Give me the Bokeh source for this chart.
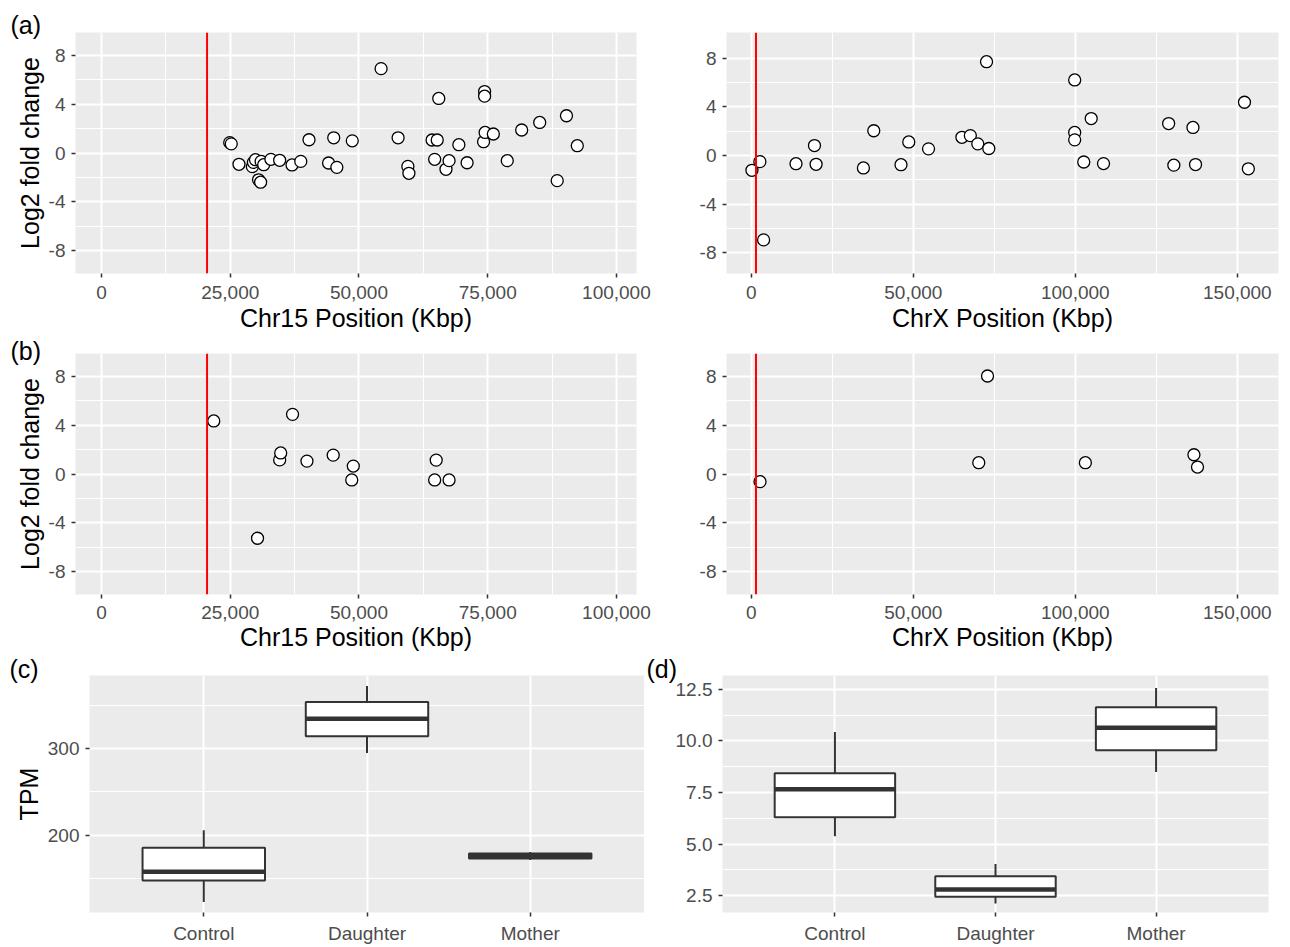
from bokeh.plotting import figure
from bokeh.layouts import row, column
from bokeh.models import (Range1d, FactorRange, FixedTicker, NumeralTickFormatter,
                          Span, ColumnDataSource)
from bokeh.transform import dodge
from bokeh.embed import file_html
from bokeh.resources import INLINE

# ---------------- data ----------------
chr15_all_pos = [24900, 25200, 26700, 29300, 29500, 29900, 30500, 30900, 31000, 31500,
                 32900, 34600, 37000, 38700, 40300, 44100, 45100, 45700, 48700, 54300,
                 57600, 59500, 59700, 64200, 64700, 65200, 65500, 66900, 67500, 69400,
                 71000, 74200, 74400, 74400, 74500, 76100, 78800, 81600, 85100, 88500,
                 90300, 92400]
chr15_all_lfc = [0.85, 0.75, -0.93, -1.12, -0.77, -0.55, -2.2, -2.4, -0.69, -0.96,
                 -0.52, -0.6, -0.98, -0.69, 1.09, -0.82, 1.25, -1.18, 1.0, 6.93,
                 1.25, -1.1, -1.67, 1.07, -0.52, 1.07, 4.48, -1.34, -0.63, 0.68,
                 -0.8, 0.93, 5.05, 4.67, 1.69, 1.56, -0.63, 1.89, 2.51, -2.27,
                 3.06, 0.6]

chrx_all_pos = [200, 2650, 3800, 13800, 19500, 20000, 34600, 37800, 46200, 48600,
                54700, 65000, 67600, 69900, 72600, 73300, 99800, 99800, 99800, 102600,
                104900, 108700, 128800, 130400, 136300, 137100, 152200, 153400]
chrx_all_lfc = [-1.22, -0.51, -6.94, -0.68, 0.81, -0.73, -1.03, 2.03, -0.76, 1.11,
                0.54, 1.49, 1.63, 0.95, 7.7, 0.57, 6.2, 1.89, 1.28, -0.54,
                3.03, -0.67, 2.62, -0.8, 2.3, -0.75, 4.37, -1.1]

chr15_sub_pos = [21800, 30300, 34600, 34800, 37100, 39900, 45000, 48600, 48900, 64700, 65000, 67500]
chr15_sub_lfc = [4.36, -5.28, 1.16, 1.73, 4.9, 1.06, 1.55, -0.49, 0.65, -0.49, 1.14, -0.49]

chrx_sub_pos = [2700, 70200, 72900, 103100, 136600, 137700]
chrx_sub_lfc = [-0.63, 0.93, 8.05, 0.93, 1.58, 0.57]

chr15_mark = 20500
chrx_mark = 1450

groups = ["Control", "Daughter", "Mother"]
c_low = [123.1, 295.1, 171.6]
c_q1 = [147.7, 314.4, 173.1]
c_med = [158.0, 334.4, 176.0]
c_q3 = [185.6, 353.8, 179.1]
c_high = [205.7, 372.4, 180.7]

d_low = [5.38, 2.13, 8.50]
d_q1 = [6.30, 2.45, 9.55]
d_med = [7.66, 2.80, 10.64]
d_q3 = [8.44, 3.44, 11.63]
d_high = [10.43, 4.04, 12.56]

lfc_ticks = [-8, -4, 0, 4, 8]
lfc_minor = [-6, -2, 2, 6]
chr15_ticks = [0, 25000, 50000, 75000, 100000]
chr15_minor = [12500, 37500, 62500, 87500]
chrx_ticks = [0, 50000, 100000, 150000]
chrx_minor = [25000, 75000, 125000]
tpm_c_ticks = [200, 300]
tpm_c_minor = [150, 250, 350]
tpm_d_ticks = [2.5, 5.0, 7.5, 10.0, 12.5]
tpm_d_minor = [3.75, 6.25, 8.75, 11.25]

# ---------------- style ----------------
FONT = "Liberation Sans"
BG = "#EBEBEB"
DARK = "#333333"


def base(width, height, left, right, top, bottom, xr, yr, tag=None):
    p = figure(width=width, height=height, x_range=xr, y_range=yr,
               output_backend="svg", toolbar_location=None,
               min_border_left=left, min_border_right=right,
               min_border_top=top, min_border_bottom=bottom,
               background_fill_color=BG, border_fill_color="white",
               outline_line_color=None)
    if tag is not None:
        text, off, stand = tag
        p.title.text = text
        p.title.text_font = FONT
        p.title.text_font_size = "25px"
        p.title.text_font_style = "normal"
        p.title.text_color = "black"
        p.title.align = "left"
        p.title.vertical_align = "bottom"
        p.title.offset = off
        p.title.standoff = stand
    return p


def style(p, xlabel=None, ylabel=None, x_standoff=10, x_label_standoff=2):
    for ax in p.axis:
        ax.axis_line_color = None
        ax.major_tick_line_color = DARK
        ax.major_tick_line_width = 1.5
        ax.major_tick_out = 4
        ax.major_tick_in = 0
        ax.minor_tick_line_color = None
        ax.major_label_text_font = FONT
        ax.major_label_text_font_size = "19px"
        ax.major_label_text_color = "#4D4D4D"
        ax.major_label_standoff = 6
        ax.axis_label_text_font = FONT
        ax.axis_label_text_font_size = "25px"
        ax.axis_label_text_font_style = "normal"
        ax.axis_label_text_color = "black"
        ax.axis_label_standoff = 2
    p.xaxis.major_label_standoff = x_standoff
    p.xaxis.axis_label_standoff = x_label_standoff
    if xlabel:
        p.xaxis.axis_label = xlabel
    if ylabel:
        p.yaxis.axis_label = ylabel
    p.grid.grid_line_color = "white"
    p.grid.grid_line_width = 2
    p.grid.minor_grid_line_color = "white"
    p.grid.minor_grid_line_width = 1


def scatter_panel(width, height, left, right, top, bottom, xr, yr, ticks, minor,
                  xs, ys, mark, xlabel, ylabel, x_standoff, x_label_standoff, tag=None):
    p = base(width, height, left, right, top, bottom, Range1d(*xr), Range1d(*yr), tag)
    p.scatter(xs, ys, size=12, fill_color="white", line_color="black", line_width=1.3)
    p.add_layout(Span(location=mark, dimension="height", line_color="red", line_width=2))
    xt = FixedTicker(ticks=ticks, minor_ticks=minor)
    yt = FixedTicker(ticks=lfc_ticks, minor_ticks=lfc_minor)
    p.xaxis.ticker = xt
    p.xgrid.ticker = xt
    p.yaxis.ticker = yt
    p.ygrid.ticker = yt
    p.xaxis.formatter = NumeralTickFormatter(format="0,0")
    p.yaxis.major_label_overrides = {t: ("-%d" % abs(t)) for t in lfc_ticks if t < 0}
    style(p, xlabel, ylabel, x_standoff, x_label_standoff)
    return p


def box_panel(width, height, left, right, top, bottom, yr, lo, q1, med, q3, hi,
              ticks, minor, fmt, ylabel, x_standoff, tag=None):
    xr = FactorRange(factors=groups, range_padding=0.2, range_padding_units="absolute")
    p = base(width, height, left, right, top, bottom, xr, Range1d(*yr), tag)
    src = ColumnDataSource(dict(g=groups, lo=lo, q1=q1, med=med, q3=q3, hi=hi))
    p.segment(x0="g", y0="lo", x1="g", y1="q1", source=src, line_color=DARK, line_width=2)
    p.segment(x0="g", y0="q3", x1="g", y1="hi", source=src, line_color=DARK, line_width=2)
    p.vbar(x="g", width=0.75, bottom="q1", top="q3", source=src,
           fill_color="white", line_color=DARK, line_width=2)
    p.segment(x0=dodge("g", -0.375, range=xr), y0="med",
              x1=dodge("g", 0.375, range=xr), y1="med",
              source=src, line_color=DARK, line_width=4.5)
    yt = FixedTicker(ticks=ticks, minor_ticks=minor)
    p.yaxis.ticker = yt
    p.ygrid.ticker = yt
    p.yaxis.formatter = NumeralTickFormatter(format=fmt)
    style(p, None, ylabel, x_standoff)
    return p


# Row 1 (a)
a1 = scatter_panel(655, 334, 75, 19, 32, 61, (-5050, 103900), (-9.9, 9.9),
                   chr15_ticks, chr15_minor, chr15_all_pos, chr15_all_lfc, chr15_mark,
                   "Chr15 Position (Kbp)", "Log2 fold change", 8, 2, ("(a)", -65, -12))
a2 = scatter_panel(627, 334, 71, 4, 32, 61, (-7650, 162700), (-9.7, 10.1),
                   chrx_ticks, chrx_minor, chrx_all_pos, chrx_all_lfc, chrx_mark,
                   "ChrX Position (Kbp)", None, 8, 2)

# Row 2 (b)
b1 = scatter_panel(655, 319, 75, 19, 19, 59, (-5050, 103900), (-9.9, 9.9),
                   chr15_ticks, chr15_minor, chr15_sub_pos, chr15_sub_lfc, chr15_mark,
                   "Chr15 Position (Kbp)", "Log2 fold change", 7, 1, ("(b)", -65, -22))
b2 = scatter_panel(627, 319, 71, 4, 19, 59, (-7650, 162700), (-9.9, 9.9),
                   chrx_ticks, chrx_minor, chrx_sub_pos, chrx_sub_lfc, chrx_mark,
                   "ChrX Position (Kbp)", None, 7, 1)

# Row 3 (c), (d)
c = box_panel(644, 293, 89, 0, 22, 30, (110.9, 384.4), c_low, c_q1, c_med, c_q3, c_high,
              tpm_c_ticks, tpm_c_minor, "0", "TPM", 6, ("(c)", -80, -14))
d = box_panel(638, 293, 78, 14, 22, 30, (1.69, 13.17), d_low, d_q1, d_med, d_q3, d_high,
              tpm_d_ticks, tpm_d_minor, "0.0", None, 6, ("(d)", -76, -14))

layout = column(row(a1, a2), row(b1, b2), row(c, d))

open("out.html", "w").write(file_html(layout, INLINE))
